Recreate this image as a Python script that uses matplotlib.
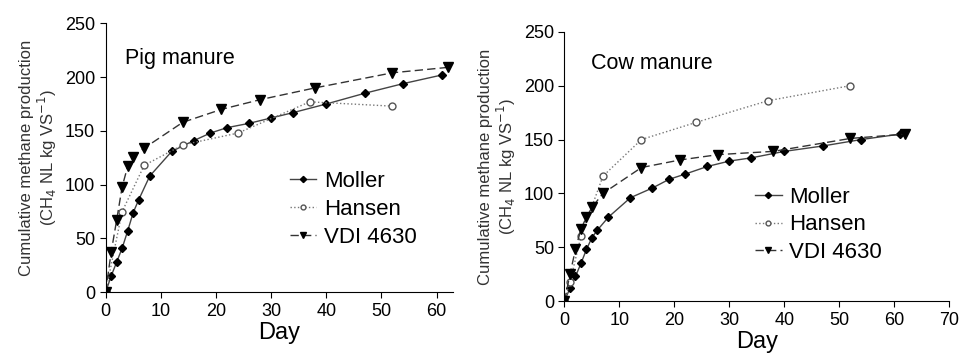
import matplotlib.pyplot as plt

plt.rcParams['font.family'] = ['Liberation Sans', 'DejaVu Sans']

# Pig manure
pig_moller_day = [0, 1, 2, 3, 4, 5, 6, 8, 12, 16, 19, 22, 26, 30, 34, 40, 47, 54, 61]
pig_moller = [0, 15, 28, 41, 57, 74, 86, 108, 131, 141, 148, 153, 157, 162, 167, 175, 185, 194, 202]
pig_hansen_day = [0, 3, 7, 14, 24, 37, 52]
pig_hansen = [0, 75, 118, 137, 148, 177, 173]
pig_vdi_day = [0, 1, 2, 3, 4, 5, 7, 14, 21, 28, 38, 52, 62]
pig_vdi = [0, 37, 67, 98, 117, 126, 134, 158, 170, 179, 190, 204, 209]

# Cow manure
cow_moller_day = [0, 1, 2, 3, 4, 5, 6, 8, 12, 16, 19, 22, 26, 30, 34, 40, 47, 54, 61]
cow_moller = [0, 12, 23, 35, 48, 59, 66, 78, 96, 105, 113, 118, 125, 130, 133, 139, 144, 150, 155]
cow_hansen_day = [0, 1, 3, 7, 14, 24, 37, 52]
cow_hansen = [0, 18, 60, 116, 150, 166, 186, 200]
cow_vdi_day = [0, 1, 2, 3, 4, 5, 7, 14, 21, 28, 38, 52, 62]
cow_vdi = [0, 25, 48, 67, 78, 87, 100, 124, 131, 136, 139, 151, 155]

fig = plt.figure(figsize=(9.6, 3.53), dpi=100)
ax1 = fig.add_axes([0.110, 0.172, 0.362, 0.762])
ax2 = fig.add_axes([0.588, 0.147, 0.401, 0.763])


def draw(ax, data, title, xmax, xticks, title_pos, leg_pos):
    (md, mv), (hd, hv), (vd, vv) = data
    ax.plot(md, mv, '-', color='#444444', lw=1, marker='D', ms=4.5,
            mfc='black', mec='black', label='Moller')
    ax.plot(hd, hv, ':', color='#777777', lw=1, marker='o', ms=5,
            mfc='white', mec='#555555', label='Hansen')
    ax.plot(vd, vv, '--', color='#333333', lw=1, dashes=(6, 3), marker='v', ms=6.5,
            mfc='black', mec='black', label='VDI 4630')
    ax.set_xlim(0, xmax)
    ax.set_ylim(0, 250)
    ax.set_xticks(xticks)
    ax.set_yticks([0, 50, 100, 150, 200, 250])
    for s in ['top', 'right']:
        ax.spines[s].set_visible(False)
    ax.tick_params(labelsize=13, direction='out', length=4)
    ax.set_xlabel('Day', fontsize=17, labelpad=2)
    ax.set_ylabel('Cumulative methane production\n(CH$_4$ NL kg VS$^{-1}$)',
                  fontsize=12, color='#333333', linespacing=1.1)
    ax.text(title_pos[0], title_pos[1], title, transform=ax.transAxes, fontsize=15.5)
    ax.legend(loc='upper left', bbox_to_anchor=leg_pos, frameon=False,
              fontsize=16, handlelength=1.2, handletextpad=0.35, labelspacing=0.3,
              borderaxespad=0, borderpad=0, markerscale=0.7)


draw(ax1, [(pig_moller_day, pig_moller), (pig_hansen_day, pig_hansen),
           (pig_vdi_day, pig_vdi)], 'Pig manure', 63, range(0, 61, 10),
     (0.056, 0.85), (0.53, 0.45))
draw(ax2, [(cow_moller_day, cow_moller), (cow_hansen_day, cow_hansen),
           (cow_vdi_day, cow_vdi)], 'Cow manure', 70, range(0, 71, 10),
     (0.068, 0.86), (0.495, 0.425))

fig.savefig('out.png', dpi=100)
